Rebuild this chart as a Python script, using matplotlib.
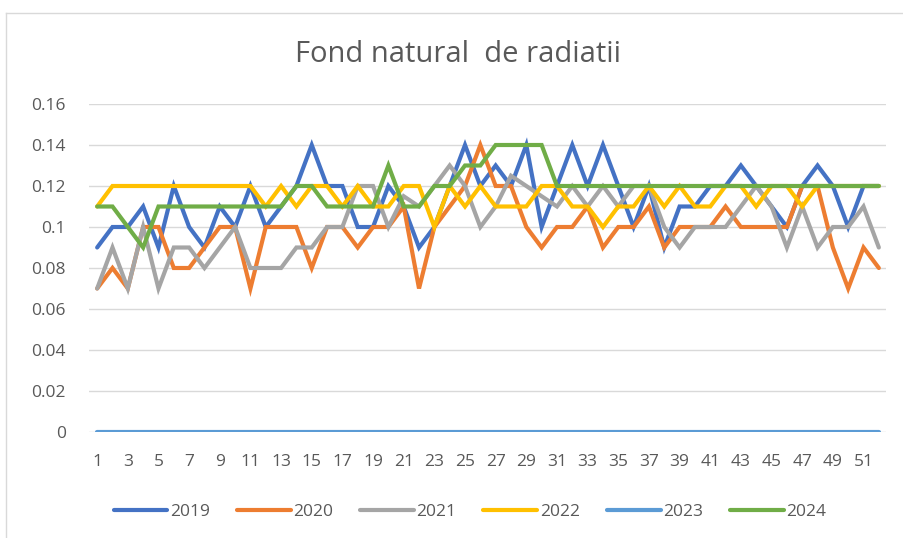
import numpy as np
import matplotlib.pyplot as plt
from matplotlib.lines import Line2D

plt.rcParams['font.family'] = ['Open Sans', 'DejaVu Sans']

weeks = np.arange(1, 53)

y2019 = [0.09, 0.10, 0.10, 0.11, 0.09, 0.12, 0.10, 0.09, 0.11, 0.10,
         0.12, 0.10, 0.11, 0.12, 0.14, 0.12, 0.12, 0.10, 0.10, 0.12,
         0.11, 0.09, 0.10, 0.12, 0.14, 0.12, 0.13, 0.12, 0.14, 0.10,
         0.12, 0.14, 0.12, 0.14, 0.12, 0.10, 0.12, 0.09, 0.11, 0.11,
         0.12, 0.12, 0.13, 0.12, 0.11, 0.10, 0.12, 0.13, 0.12, 0.10,
         0.12, 0.12]
y2020 = [0.07, 0.08, 0.07, 0.10, 0.10, 0.08, 0.08, 0.09, 0.10, 0.10,
         0.07, 0.10, 0.10, 0.10, 0.08, 0.10, 0.10, 0.09, 0.10, 0.10,
         0.11, 0.07, 0.10, 0.11, 0.12, 0.14, 0.12, 0.12, 0.10, 0.09,
         0.10, 0.10, 0.11, 0.09, 0.10, 0.10, 0.11, 0.09, 0.10, 0.10,
         0.10, 0.11, 0.10, 0.10, 0.10, 0.10, 0.12, 0.12, 0.09, 0.07,
         0.09, 0.08]
y2021 = [0.07, 0.09, 0.07, 0.10, 0.07, 0.09, 0.09, 0.08, 0.09, 0.10,
         0.08, 0.08, 0.08, 0.09, 0.09, 0.10, 0.10, 0.12, 0.12, 0.10,
         0.115, 0.11, 0.12, 0.13, 0.12, 0.10, 0.11, 0.125, 0.12, 0.115,
         0.11, 0.12, 0.11, 0.12, 0.11, 0.12, 0.12, 0.10, 0.09, 0.10,
         0.10, 0.10, 0.11, 0.12, 0.11, 0.09, 0.11, 0.09, 0.10, 0.10,
         0.11, 0.09]
y2022 = [0.11, 0.12, 0.12, 0.12, 0.12, 0.12, 0.12, 0.12, 0.12, 0.12,
         0.12, 0.11, 0.12, 0.11, 0.12, 0.12, 0.11, 0.12, 0.11, 0.11,
         0.12, 0.12, 0.10, 0.12, 0.11, 0.12, 0.11, 0.11, 0.11, 0.12,
         0.12, 0.11, 0.11, 0.10, 0.11, 0.11, 0.12, 0.11, 0.12, 0.11,
         0.11, 0.12, 0.12, 0.11, 0.12, 0.12, 0.11, 0.12, 0.12, 0.12,
         0.12, 0.12]
y2023 = [0.0] * 52
y2024 = [0.11, 0.11, 0.10, 0.09, 0.11, 0.11, 0.11, 0.11, 0.11, 0.11,
         0.11, 0.11, 0.11, 0.12, 0.12, 0.11, 0.11, 0.11, 0.11, 0.13,
         0.11, 0.11, 0.12, 0.12, 0.13, 0.13, 0.14, 0.14, 0.14, 0.14,
         0.12, 0.12, 0.12, 0.12, 0.12, 0.12, 0.12, 0.12, 0.12, 0.12,
         0.12, 0.12, 0.12, 0.12, 0.12, 0.12, 0.12, 0.12, 0.12, 0.12,
         0.12, 0.12]

years = ['2019', '2020', '2021', '2022', '2023', '2024']
series = [y2019, y2020, y2021, y2022, y2023, y2024]
colors = ['#4472C4', '#ED7D31', '#A5A5A5', '#FFC000', '#5B9BD5', '#70AD47']

fig = plt.figure(figsize=(9.04, 5.38), dpi=100)
ax = fig.add_axes([89.5/904, 1-432/538, (886.5-89.5)/904, (432-104)/538])

for yr, vals, c in zip(years, series, colors):
    ax.plot(weeks, vals, color=c, lw=3, label=yr, solid_capstyle='round', solid_joinstyle='miter', zorder=3)

ax.set_xlim(0.5, 52.5)
ax.set_ylim(0, 0.16)
ax.set_yticks(np.arange(0, 0.161, 0.02))
ax.set_yticklabels(['0', '0.02', '0.04', '0.06', '0.08', '0.1', '0.12', '0.14', '0.16'],
                   fontsize=12.5, color='#595959')
ax.tick_params(axis='y', length=0, pad=17)
ax.set_xticks(weeks[::2])
ax.set_xticklabels([str(w) for w in weeks[::2]], fontsize=12.5, color='#595959')
ax.tick_params(axis='x', length=0, pad=16)
ax.grid(axis='y', color='#D9D9D9', lw=1, zorder=0)
for s in ax.spines.values():
    s.set_visible(False)

fig.text(458/904, 1-55/538, 'Fond natural  de radiatii', ha='center', va='center',
         fontsize=21, color='#595959')

handles = [Line2D([], [], color=c, lw=3, solid_capstyle='round') for c in colors]
fig.legend(handles, years, loc='center', bbox_to_anchor=(470/904, 1-512/538), ncol=6,
           frameon=False, fontsize=12.5, handlelength=3.1, handletextpad=0.15, columnspacing=1.55,
           labelcolor='#595959')

# chart border (top and left visible)
fig.add_artist(Line2D([6/904, 1], [1-13/538, 1-13/538], color='#D9D9D9', lw=1, transform=fig.transFigure))
fig.add_artist(Line2D([6/904, 6/904], [0, 1-13/538], color='#D9D9D9', lw=1, transform=fig.transFigure))

fig.savefig('out.png', dpi=100)
